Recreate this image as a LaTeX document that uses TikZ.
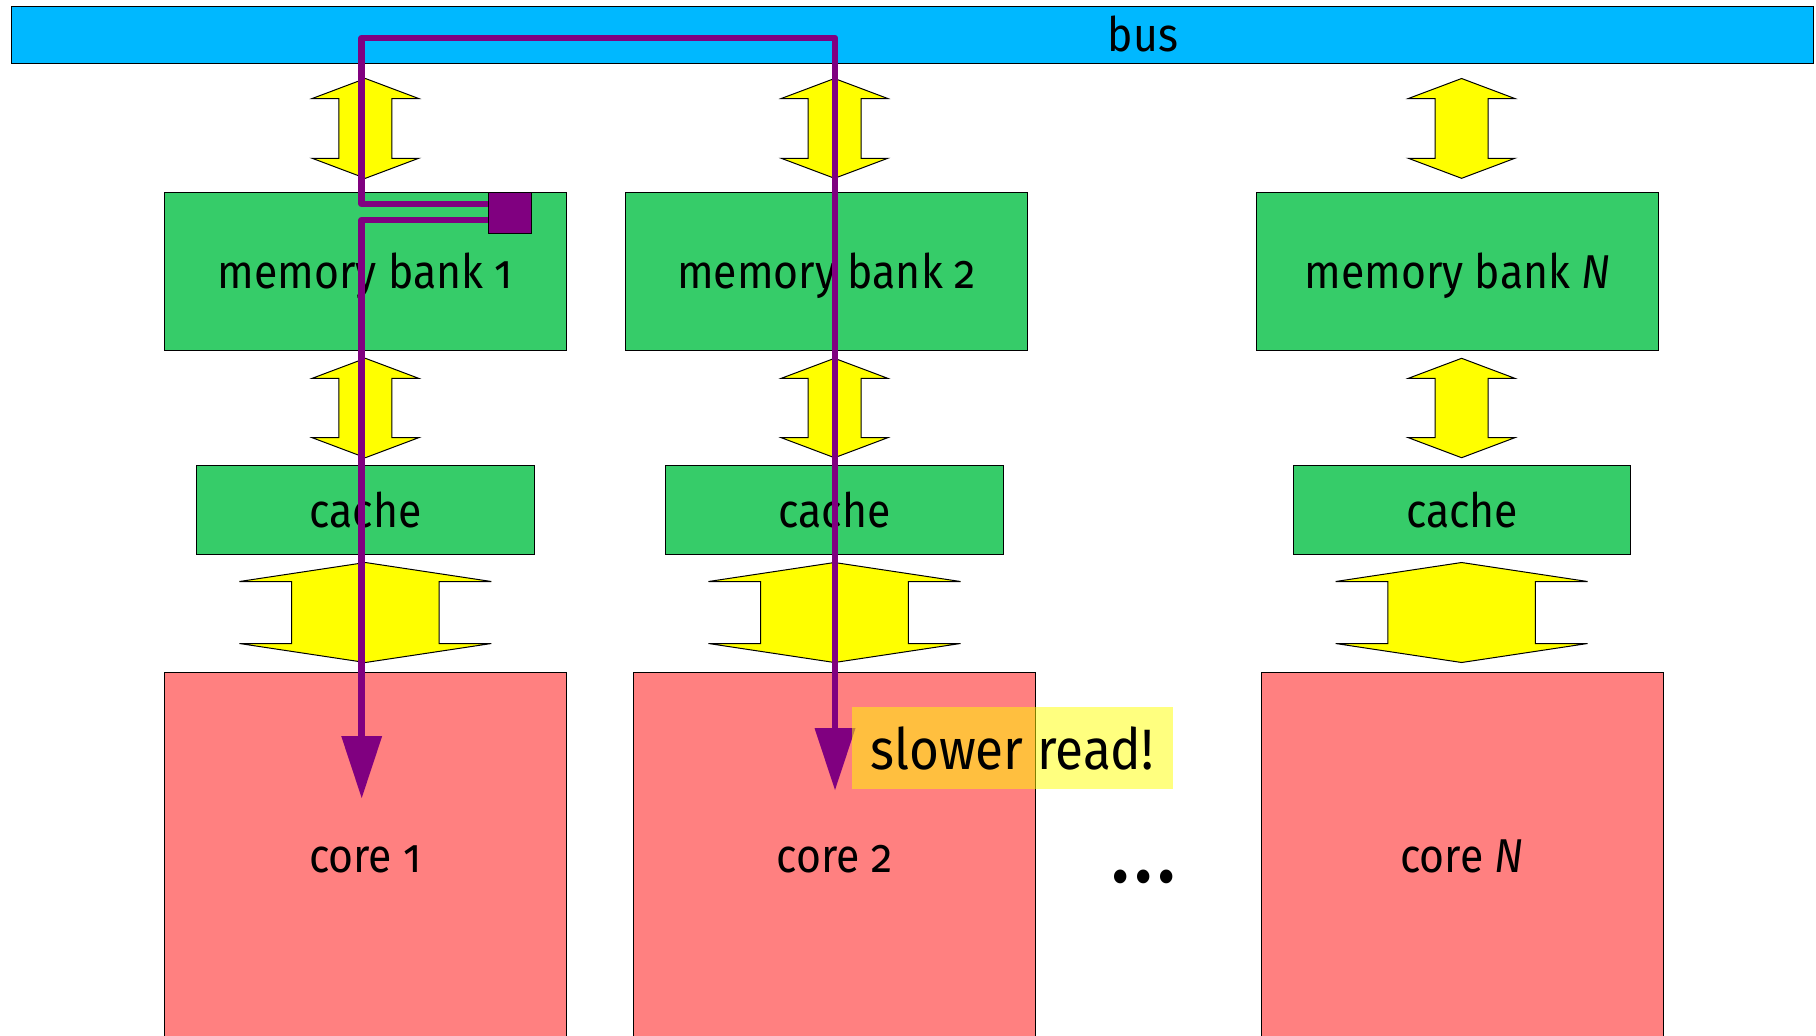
\documentclass[tikz,border=0pt]{standalone}
\usepackage{fontspec}
\setmainfont{Fira Sans}[Numbers=OldStyle,FakeStretch=0.9]
\usetikzlibrary{arrows.meta,calc}

\definecolor{busblue}{RGB}{0,184,255}
\definecolor{memgreen}{RGB}{54,204,105}
\definecolor{corepink}{RGB}{255,128,128}
\definecolor{wirepurple}{RGB}{128,0,128}
\definecolor{flowyellow}{RGB}{255,255,0}

\newcommand\lblfont{\fontsize{23.75}{28}\selectfont}
\newcommand\bigfont{\fontsize{28.5}{34}\selectfont}

% double-headed block arrow: centre x, top y, bottom y, half head width, half shaft width, head length
\newcommand\flowarrow[6]{%
  \filldraw[flow] (#1,#2) -- (#1+#4,#2+#6) -- (#1+#5,#2+#6) -- (#1+#5,#3-#6)
    -- (#1+#4,#3-#6) -- (#1,#3) -- (#1-#4,#3-#6) -- (#1-#5,#3-#6)
    -- (#1-#5,#2+#6) -- (#1-#4,#2+#6) -- cycle;}

\begin{document}
\begin{tikzpicture}[x=0.5pt,y=-0.5pt,
  box/.style={draw=black, line width=0.5pt, inner sep=0pt, font=\lblfont},
  membox/.style={box, fill=memgreen, minimum width=200.9pt, minimum height=79pt, text depth=0pt},
  cachebox/.style={box, fill=memgreen, minimum width=168.6pt, minimum height=44.75pt, text depth=0pt},
  corebox/.style={box, fill=corepink, minimum width=201pt, minimum height=187pt, text height=12.5pt, text depth=0pt},
  flow/.style={fill=flowyellow, draw=black, line width=0.5pt},
  wire/.style={draw=wirepurple, line width=3.25pt, line join=round,
    -{Triangle[length=31pt,width=20.5pt,line width=0pt]}},
  note/.style={fill=flowyellow, fill opacity=0.5, text opacity=1, inner sep=0pt, font=\bigfont, text depth=0pt}]
\useasboundingbox (0,0) rectangle (1816,1035);

% bus
\node[box, fill=busblue, minimum width=901pt, minimum height=28.5pt] (bus) at (912.65,34.5) {};
\node[font=\lblfont, text depth=0pt, inner sep=0pt] (buslabel) at (1143,33.5) {bus};

% memory banks
\node[membox] (mb1) at (365.4,271) {memory bank 1};
\node[membox] (mb2) at (826.35,271) {memory bank 2};
\node[membox] (mbN) at (1457.5,271) {memory bank \textit{N}};

% caches
\node[cachebox] (c1) at (365.45,510.2) {cache};
\node[cachebox] (c2) at (834.5,510.2) {cache};
\node[cachebox] (cN) at (1462.2,510.2) {cache};

% cores
\node[corebox] (k1) at (365.4,859.5) {core 1};
\node[corebox] (k2) at (834.5,859.5) {core 2};
\node[corebox] (kN) at (1462,859.5) {core \textit{N}};

% bus <-> memory bank
\flowarrow{365.4}{78.5}{178.3}{53.2}{26.5}{20}
\flowarrow{834.5}{78.5}{178.3}{53.2}{26.5}{20}
\flowarrow{1461.6}{78.5}{178.3}{53.2}{26.5}{20}
% memory bank <-> cache
\flowarrow{365.4}{358.3}{457.7}{53.2}{26.5}{20}
\flowarrow{834.5}{358.3}{457.7}{53.2}{26.5}{20}
\flowarrow{1461.6}{358.3}{457.7}{53.2}{26.5}{20}
% cache <-> core
\flowarrow{365.4}{562.5}{662.5}{126}{73.8}{19}
\flowarrow{834.5}{562.5}{662.5}{126}{73.8}{19}
\flowarrow{1461.6}{562.5}{662.5}{126}{73.8}{19}

% the requested word in memory bank 1
\node[draw=black, line width=0.5pt, fill=wirepurple, inner sep=0pt,
  minimum width=21.5pt, minimum height=20.5pt] (sq) at (509.5,212.5) {};

% read paths
\coordinate (portA) at ($(sq.west)+(0,-8.5)$);
\coordinate (portB) at ($(sq.west)+(0,7.5)$);
\coordinate (busrun) at (361.7,38);
\coordinate (tip1) at (361.7,798);
\coordinate (tip2) at (835,790);
\draw[wire] (portA) -| (busrun) -| (tip2);
\draw[wire] (portB) -| (tip1);

% annotation
\node[note, minimum width=160.5pt, minimum height=41.2pt] (slow) at (1012.2,748) {slower read!};

% more cores
\node[font=\fontsize{38}{44}\selectfont\bfseries, inner sep=0pt, text depth=0pt] (dots) at (1144,876) {.\kern3.2pt.\kern3.2pt.};
\end{tikzpicture}
\end{document}
